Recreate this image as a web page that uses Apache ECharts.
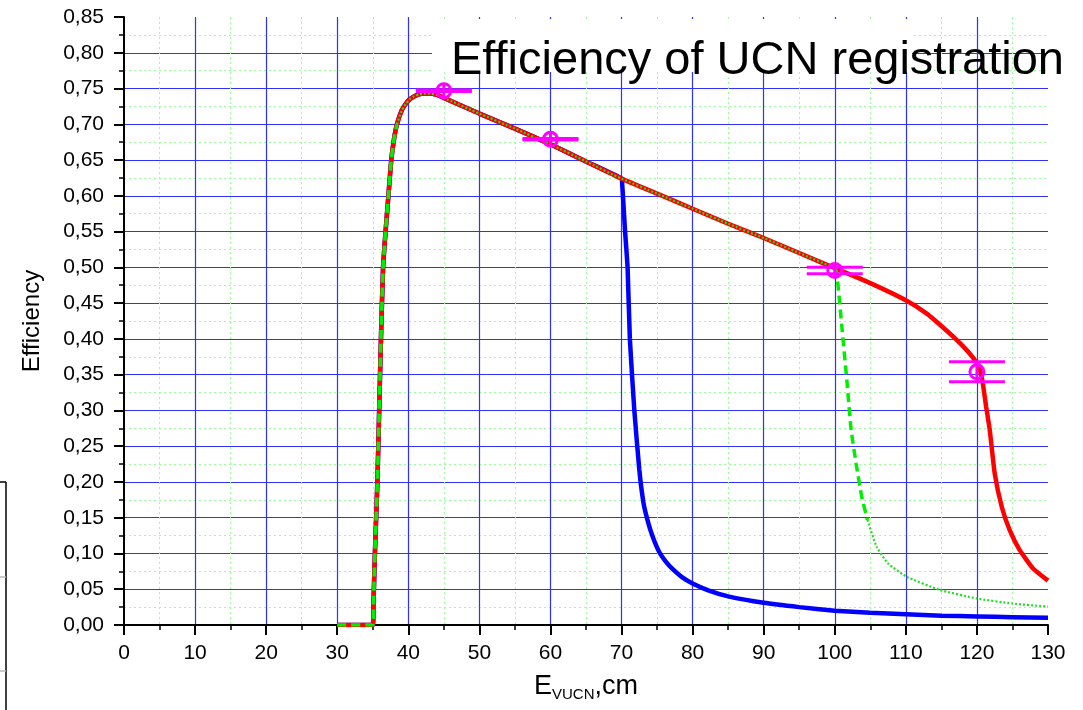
<!DOCTYPE html>
<html>
<head>
<meta charset="utf-8">
<script src="https://cdn.jsdelivr.net/npm/echarts@6/dist/echarts.min.js"></script>
<style>
html,body{margin:0;padding:0;background:#fff;}
#chart{width:1083px;height:710px;}
</style>
</head>
<body>
<div id="chart"></div>
<script>
// ---- data ----
const titleText = 'Efficiency of UCN registration';
const yAxisName = 'Efficiency';

// common part of all three curves: flat, steep rise, peak, linear decline to 70
const sharedPart = [
  [30, 0], [35, 0], [35.1, 0.03], [35.3, 0.10], [35.65, 0.20], [35.9, 0.30], [36.15, 0.40],
  [36.45, 0.50], [36.8, 0.55], [37.2, 0.60], [37.6, 0.65], [38.0, 0.68], [38.4, 0.70],
  [39.1, 0.72], [39.6, 0.728], [40.2, 0.735], [40.8, 0.739], [41.5, 0.742], [42.3, 0.743],
  [43, 0.743], [44, 0.741], [45, 0.737], [50, 0.715], [55, 0.694], [60, 0.672],
  [65, 0.648], [70, 0.624]
];
// continuation 70 -> 100 shared by red and green
const midPart = [
  [75, 0.603], [80, 0.582], [85, 0.561], [90, 0.541], [95, 0.520], [100, 0.499]
];
// red tail (cut-off at 120)
const redTail = [
  [105, 0.478], [110, 0.454], [113, 0.435], [115, 0.418], [117, 0.400],
  [118.5, 0.385], [119.5, 0.373], [120.2, 0.362], [120.6, 0.350],
  [120.9, 0.333], [121.3, 0.305], [121.8, 0.273], [122.5, 0.212],
  [123.5, 0.165], [124.6, 0.133], [126, 0.105], [127.9, 0.079], [130, 0.062]
];
// green tail (cut-off at 100)
const greenTail = [
  [100.15, 0.496], [100.3, 0.490], [100.6, 0.460], [100.97, 0.420], [101.7, 0.342],
  [102.3, 0.273], [103.0, 0.226], [103.8, 0.179], [104.6, 0.147], [105.9, 0.109],
  [107.5, 0.086], [110.1, 0.0675], [114.8, 0.049], [120, 0.037],
  [125, 0.030], [130, 0.0256]
];
// blue tail (cut-off at 70)
const blueTail = [
  [70.1, 0.615], [70.2, 0.600], [70.5, 0.550], [70.85, 0.500], [71.17, 0.400], [71.8, 0.300],
  [72.5, 0.217], [73.1, 0.170], [73.7, 0.145], [74.4, 0.123], [75.3, 0.102], [76.2, 0.089],
  [77.2, 0.078], [78.5, 0.067], [80, 0.058], [82.3, 0.048], [85, 0.040], [90, 0.031],
  [95, 0.025], [100, 0.020], [105, 0.017], [110, 0.015], [115, 0.013], [120, 0.012],
  [125, 0.011], [130, 0.010]
];
// measured points with vertical error bars
const pointX    = [45, 60, 100, 120];
const pointY    = [0.747, 0.679, 0.4955, 0.354];
const pointLow  = [0.746, 0.678, 0.491, 0.340];
const pointHigh = [0.748, 0.680, 0.500, 0.368];

// ---- build ----
const redCurve = sharedPart.concat(midPart, redTail);
const greenCurve = sharedPart.concat(midPart, greenTail);
const blueCurve = sharedPart.concat(blueTail);
const greenBreaks = [38.4, 100, 104.6]; // style changes dashed/dotted
function seg(data, a, b) { return data.filter(p => p[0] >= a && p[0] <= b); }
const bounds = [30].concat(greenBreaks, [130]);
const errData = pointX.map((x, i) => [x, pointY[i], pointLow[i], pointHigh[i]]);

const FONT = '"Liberation Sans", Arial, sans-serif';
const SMOOTH = 0.15;
const chart = echarts.init(document.getElementById('chart'), null, {renderer: 'canvas'});

const greenSeries = [];
for (let i = 0; i < bounds.length - 1; i++) {
  const dashed = (i % 2 === 0);
  greenSeries.push({
    type: 'line', data: seg(greenCurve, bounds[i], bounds[i + 1]),
    showSymbol: false, smooth: SMOOTH, z: 4, silent: true,
    lineStyle: dashed ? {color: '#00ee00', width: 3.5, type: [9, 5]}
                      : {color: '#22dd22', width: 2.2, type: [2, 2]}
  });
}

const option = {
  animation: false,
  backgroundColor: '#fff',
  grid: {left: 124, right: 35, top: 17, bottom: 85, containLabel: false},
  xAxis: {
    type: 'value', min: 0, max: 130, interval: 10,
    name: '{e|E}{s|VUCN}{e|,cm}', nameLocation: 'middle', nameGap: 46,
    nameTextStyle: {
      rich: {
        e: {fontSize: 27, fontFamily: FONT, color: '#000'},
        s: {fontSize: 15, fontFamily: FONT, color: '#000', verticalAlign: 'bottom', padding: [16, 0, 0, 0]}
      }
    },
    axisLine: {show: true, onZero: false, lineStyle: {color: '#000', width: 2}},
    axisTick: {show: true, length: 10, lineStyle: {color: '#000', width: 2}},
    minorTick: {show: true, splitNumber: 2, length: 5, lineStyle: {color: '#000', width: 1.5}},
    axisLabel: {fontSize: 21, fontFamily: FONT, color: '#000', margin: 18},
    splitLine: {show: true, showMinLine: false, showMaxLine: false, lineStyle: {color: '#3030ff', width: 1.2}},
    minorSplitLine: {show: true, lineStyle: {color: '#99ff99', width: 1, type: [2, 3]}}
  },
  yAxis: {
    type: 'value', min: 0, max: 0.85, interval: 0.05,
    name: yAxisName, nameLocation: 'middle', nameGap: 80,
    nameTextStyle: {fontSize: 24, fontFamily: FONT, color: '#000'},
    axisLine: {show: true, onZero: false, lineStyle: {color: '#000', width: 2}},
    axisTick: {show: true, length: 10, lineStyle: {color: '#000', width: 2}},
    minorTick: {show: true, splitNumber: 2, length: 5, lineStyle: {color: '#000', width: 1.5}},
    axisLabel: {fontSize: 21, fontFamily: FONT, color: '#000', margin: 20,
      formatter: v => v.toFixed(2).replace('.', ',')},
    splitLine: {show: true, showMinLine: false, showMaxLine: false, lineStyle: {color: '#3030ff', width: 1.2}},
    minorSplitLine: {show: true, lineStyle: {color: '#99ff99', width: 1, type: [2, 3]}}
  },
  graphic: [
    {type: 'rect', left: 432, top: 19, shape: {width: 480, height: 53}, style: {fill: '#fff'}, z: 50, silent: true},
    {type: 'text', left: 451, top: 38, z: 51, silent: true,
      style: {text: titleText, font: '47px "Liberation Sans", Arial, sans-serif', fill: '#000'}},
    {type: 'line', shape: {x1: 0, y1: 482, x2: 6, y2: 482}, style: {stroke: '#000', lineWidth: 1.5}, silent: true},
    {type: 'line', shape: {x1: 6, y1: 482, x2: 6, y2: 710}, style: {stroke: '#000', lineWidth: 1.5}, silent: true},
    {type: 'line', shape: {x1: 0, y1: 577, x2: 6, y2: 577}, style: {stroke: '#bbb', lineWidth: 1.5}, silent: true},
    {type: 'line', shape: {x1: 0, y1: 671, x2: 6, y2: 671}, style: {stroke: '#bbb', lineWidth: 1.5}, silent: true}
  ],
  series: [
    {type: 'line', data: blueCurve, showSymbol: false, smooth: SMOOTH, z: 2, silent: true,
      lineStyle: {color: '#0000ff', width: 4.5}},
    {type: 'line', data: redCurve, showSymbol: false, smooth: SMOOTH, z: 3, silent: true,
      lineStyle: {color: '#ff0000', width: 4.5}}
  ].concat(greenSeries, [{
    type: 'custom', z: 6, silent: true, data: errData,
    renderItem: function (params, api) {
      const c = api.coord([api.value(0), api.value(1)]);
      const lo = api.coord([api.value(0), api.value(2)]);
      const hi = api.coord([api.value(0), api.value(3)]);
      const hw = 28, r = 7;
      const st = {stroke: '#ff00ff', lineWidth: 3, fill: null};
      return {type: 'group', children: [
        {type: 'line', shape: {x1: c[0], y1: Math.min(hi[1], c[1] - r), x2: c[0], y2: Math.max(lo[1], c[1] + r)}, style: st},
        {type: 'line', shape: {x1: c[0] - hw, y1: lo[1], x2: c[0] + hw, y2: lo[1]}, style: st},
        {type: 'line', shape: {x1: c[0] - hw, y1: hi[1], x2: c[0] + hw, y2: hi[1]}, style: st},
        {type: 'circle', shape: {cx: c[0], cy: c[1], r: r}, style: {stroke: '#ff00ff', lineWidth: 3, fill: 'rgba(0,0,0,0)'}}
      ]};
    }
  }])
};
chart.setOption(option);
</script>
</body>
</html>
